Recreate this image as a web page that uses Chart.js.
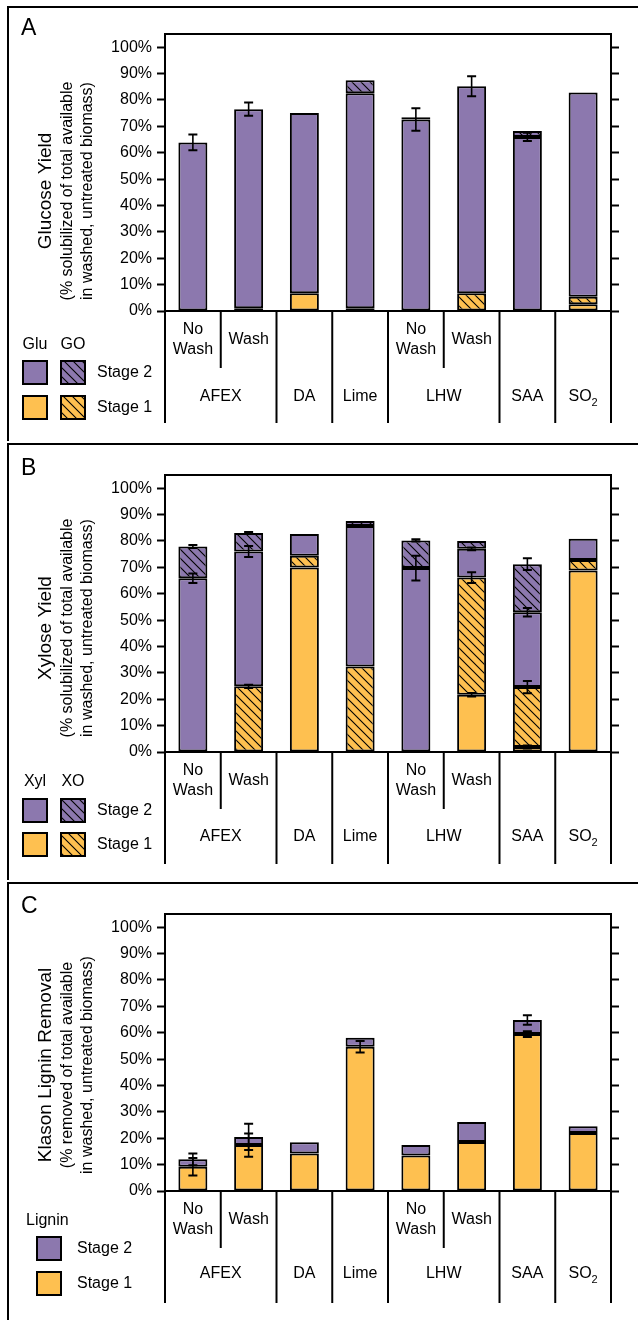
<!DOCTYPE html>
<html>
<head>
<meta charset="utf-8">
<title>Pretreatment yields</title>
<script src="https://cdn.jsdelivr.net/npm/chart.js@4/dist/chart.umd.min.js"></script>
<style>
  body { margin: 0; background: #fff; }
  canvas { position: absolute; left: 0; }
</style>
</head>
<body>
<canvas id="chartA" width="638" height="441" style="top:0"></canvas>
<canvas id="chartB" width="638" height="439" style="top:441px"></canvas>
<canvas id="chartC" width="638" height="440" style="top:880px"></canvas>
<script>
// categories and table labels
const categories = ['AFEX No Wash', 'AFEX Wash', 'DA', 'Lime', 'LHW No Wash', 'LHW Wash', 'SAA', 'SO2'];
const washLabels = [['No', 'Wash'], ['Wash'], [], [], ['No', 'Wash'], ['Wash'], [], []];
const groupLabels = ['AFEX', 'DA', 'Lime', 'LHW', 'SAA', 'SO2'];
const groupSpans = [[0, 1], [2, 2], [3, 3], [4, 5], [6, 6], [7, 7]];
const yTickValues = [0, 10, 20, 30, 40, 50, 60, 70, 80, 90, 100];

// A - glucose (% solubilized)
const glu1 = [0, 0, 6.7, 0, 0, 0, 0, 2.6];
const go1 = [0, 1.0, 0, 1.0, 0, 6.7, 0, 2.8];
const glu2 = [63.9, 75.5, 68.4, 81.5, 72.6, 78.5, 66.0, 77.4];
const go2 = [0, 0, 0, 5.0, 0.8, 0, 2.2, 0];
const glu2Err = [3.0, 2.5, null, null, 4.3, 3.8, 1.6, null];

// B - xylose (% solubilized)
const xyl1 = [0, 0, 69.9, 0, 0, 21.7, 1.9, 68.8];
const xo1 = [0, 24.9, 4.5, 32.4, 0, 44.4, 22.7, 4.0];
const xyl2 = [65.9, 51.1, 8.2, 53.3, 69.7, 10.9, 28.4, 8.0];
const xo2 = [12.0, 7.0, 0, 1.9, 10.5, 3.0, 18.2, 0];
const xyl1Err = [null, null, null, null, null, 0.7, 0.6, null];
const xo1Err = [null, 0.6, null, null, null, 2.0, 2.3, null];
const xyl2Err = [1.8, 2.1, null, null, 4.7, 0.5, 1.6, null];
const xo2Err = [0.6, 0.4, null, null, 0.4, null, 2.2, null];

// C - Klason lignin (% removed)
const lig1 = [9.2, 17.4, 14.2, 54.7, 13.5, 18.6, 59.5, 22.0];
const lig2 = [2.8, 3.1, 4.3, 3.4, 3.9, 7.6, 5.3, 2.5];
const lig1Err = [3.3, 4.4, null, 2.2, null, null, 1.1, null];
const lig2Err = [2.2, 5.0, null, null, null, null, 1.8, null];

const PURPLE = '#8c78ae';
const ORANGE = '#fec050';
const FONT = '"Liberation Sans", Arial, Helvetica, sans-serif';

Chart.defaults.font.family = FONT;
Chart.defaults.color = '#000';

function hatch(color) {
  const s = 9;
  const c = document.createElement('canvas');
  c.width = s; c.height = s;
  const g = c.getContext('2d');
  g.fillStyle = color;
  g.fillRect(0, 0, s, s);
  g.strokeStyle = '#000';
  g.lineWidth = 1.1;
  g.beginPath();
  g.moveTo(-1, -1); g.lineTo(s + 1, s + 1);
  g.moveTo(-1, s - 1); g.lineTo(1, s + 1);
  g.moveTo(s - 1, -1); g.lineTo(s + 1, 1);
  g.stroke();
  return g.createPattern(c, 'repeat');
}
const PURPLE_H = hatch(PURPLE);
const ORANGE_H = hatch(ORANGE);

function nz(arr) { return arr.map(v => (v ? v : null)); }

function bars(label, data, color, errs) {
  return {
    label: label,
    data: nz(data),
    errs: errs,
    backgroundColor: color,
    borderColor: '#000',
    borderWidth: 2,
    borderSkipped: false,
    categoryPercentage: 1,
    barPercentage: 0.52
  };
}

// error bars drawn at the top of each stacked segment
const errorBars = {
  id: 'errorBars',
  afterDatasetsDraw(chart) {
    const ctx = chart.ctx;
    const ys = chart.scales.y, xs = chart.scales.x;
    const sets = chart.data.datasets;
    ctx.save();
    ctx.strokeStyle = '#000';
    sets.forEach((d, i) => {
      if (!d.errs) return;
      d.errs.forEach((e, j) => {
        if (e == null) return;
        let top = 0;
        for (let k = 0; k <= i; k++) top += sets[k].data[j] || 0;
        const x = xs.getPixelForValue(j);
        const y1 = ys.getPixelForValue(top + e);
        const y2 = ys.getPixelForValue(top - e);
        ctx.lineWidth = 1.6;
        ctx.beginPath();
        ctx.moveTo(x, y1); ctx.lineTo(x, y2);
        ctx.stroke();
        ctx.lineWidth = 2;
        ctx.beginPath();
        ctx.moveTo(x - 4.5, y1); ctx.lineTo(x + 4.5, y1);
        ctx.moveTo(x - 4.5, y2); ctx.lineTo(x + 4.5, y2);
        ctx.stroke();
      });
    });
    ctx.restore();
  }
};

function line(ctx, x1, y1, x2, y2) {
  ctx.beginPath();
  ctx.moveTo(x1, y1);
  ctx.lineTo(x2, y2);
  ctx.stroke();
}

function drawLabel(ctx, text, x, y) {
  if (text === 'SO2') {
    ctx.font = '16px ' + FONT;
    const w1 = ctx.measureText('SO').width;
    ctx.font = '11px ' + FONT;
    const w2 = ctx.measureText('2').width;
    const x0 = x - (w1 + w2) / 2;
    ctx.textAlign = 'left';
    ctx.font = '16px ' + FONT;
    ctx.fillText('SO', x0, y);
    ctx.font = '11px ' + FONT;
    ctx.fillText('2', x0 + w1, y + 6);
    ctx.textAlign = 'center';
    ctx.font = '16px ' + FONT;
  } else {
    ctx.fillText(text, x, y);
  }
}

function panelDecor(p) {
  return {
    id: 'panelDecor',
    afterDraw(chart) {
      const ctx = chart.ctx, area = chart.chartArea, xs = chart.scales.x;
      const w = xs.getPixelForValue(1) - xs.getPixelForValue(0);
      const base = area.bottom;
      ctx.save();
      ctx.strokeStyle = '#000';
      ctx.fillStyle = '#000';
      ctx.lineWidth = 2;

      // panel frame
      ctx.beginPath();
      ctx.moveTo(8, chart.height);
      ctx.lineTo(8, p.frameTop);
      ctx.lineTo(chart.width, p.frameTop);
      ctx.stroke();

      // top of plot box
      line(ctx, area.left - 1, area.top, area.right + 1, area.top);

      // category table lines
      [0, 2, 3, 4, 6, 7, 8].forEach(k => {
        const x = area.left + k * w;
        line(ctx, x, base, x, base + 112);
      });
      [1, 5].forEach(k => {
        const x = area.left + k * w;
        line(ctx, x, base, x, base + 57);
      });

      // table text
      ctx.font = '16px ' + FONT;
      ctx.textAlign = 'center';
      ctx.textBaseline = 'middle';
      washLabels.forEach((lbl, i) => {
        const x = xs.getPixelForValue(i);
        if (lbl.length === 2) {
          ctx.fillText(lbl[0], x, base + 19);
          ctx.fillText(lbl[1], x, base + 39);
        } else if (lbl.length === 1) {
          ctx.fillText(lbl[0], x, base + 29);
        }
      });
      groupLabels.forEach((g, i) => {
        const s = groupSpans[i];
        const x = (xs.getPixelForValue(s[0]) + xs.getPixelForValue(s[1])) / 2;
        drawLabel(ctx, g, x, base + p.groupDy);
      });

      // legend
      const L = p.legend;
      L.heads.forEach((h, i) => {
        const x = L.cols[i];
        if (L.headLeft) {
          ctx.textAlign = 'left';
          ctx.fillText(h, L.headLeft, L.headY);
        } else {
          ctx.textAlign = 'center';
          ctx.fillText(h, x + 12, L.headY);
        }
      });
      L.rows.forEach((row, r) => {
        const y = L.rowY[r];
        row.fills.forEach((f, c) => {
          const x = L.cols[c];
          ctx.fillStyle = f;
          ctx.fillRect(x, y, 24, 23);
          ctx.strokeRect(x, y, 24, 23);
        });
        ctx.fillStyle = '#000';
        ctx.textAlign = 'left';
        ctx.fillText(row.text, L.textX, y + 12);
      });

      // axis titles
      ctx.save();
      ctx.translate(0, p.titleY);
      ctx.rotate(-Math.PI / 2);
      ctx.textAlign = 'center';
      ctx.font = '19px ' + FONT;
      ctx.fillText(p.titles[0], 0, 46);
      ctx.font = '16px ' + FONT;
      ctx.fillText(p.titles[1], 0, 67.5);
      ctx.fillText(p.titles[2], 0, 88);
      ctx.restore();

      // panel letter
      ctx.font = '23px ' + FONT;
      ctx.textAlign = 'left';
      ctx.textBaseline = 'alphabetic';
      ctx.fillText(p.letter, 21, p.letterY);
      ctx.restore();
    }
  };
}

function makePanel(id, datasets, p) {
  const canvas = document.getElementById(id);
  const H = canvas.height;
  const tickGrid = {
    drawOnChartArea: false,
    drawTicks: true,
    tickLength: 8,
    tickWidth: 2,
    tickColor: '#000'
  };
  const keepTicks = ax => { ax.ticks = yTickValues.map(v => ({ value: v })); };
  return new Chart(canvas, {
    type: 'bar',
    data: { labels: categories, datasets: datasets },
    options: {
      responsive: false,
      animation: false,
      layout: { padding: { top: 34, left: 0, right: 0, bottom: 0 } },
      plugins: { legend: { display: false }, tooltip: { enabled: false } },
      scales: {
        x: {
          stacked: true,
          grid: { display: false },
          ticks: { display: false },
          border: { display: true, color: '#000', width: 2 },
          afterFit: ax => { ax.height = H - 311; }
        },
        y: {
          stacked: true,
          position: 'left',
          min: 0,
          max: 105,
          afterBuildTicks: keepTicks,
          ticks: { callback: v => v + '%', font: { size: 16 }, padding: 5, color: '#000' },
          grid: tickGrid,
          border: { display: true, color: '#000', width: 2 },
          afterFit: ax => { ax.width = 165; }
        },
        y2: {
          type: 'linear',
          position: 'right',
          min: 0,
          max: 105,
          afterBuildTicks: keepTicks,
          ticks: { display: false },
          grid: tickGrid,
          border: { display: true, color: '#000', width: 2 },
          afterFit: ax => { ax.width = 27; }
        }
      }
    },
    plugins: [errorBars, panelDecor(p)]
  });
}

makePanel('chartA', [
  bars('Glu Stage 1', glu1, ORANGE),
  bars('GO Stage 1', go1, ORANGE_H),
  bars('Glu Stage 2', glu2, PURPLE, glu2Err),
  bars('GO Stage 2', go2, PURPLE_H)
], {
  letter: 'A', letterY: 35, frameTop: 7, groupDy: 86, titleY: 191,
  titles: ['Glucose Yield', '(% solubilized of total available', 'in washed, untreated biomass)'],
  legend: {
    heads: ['Glu', 'GO'], headY: 345, cols: [23, 61], textX: 97, rowY: [361, 396],
    rows: [{ text: 'Stage 2', fills: [PURPLE, PURPLE_H] }, { text: 'Stage 1', fills: [ORANGE, ORANGE_H] }]
  }
});

makePanel('chartB', [
  bars('Xyl Stage 1', xyl1, ORANGE, xyl1Err),
  bars('XO Stage 1', xo1, ORANGE_H, xo1Err),
  bars('Xyl Stage 2', xyl2, PURPLE, xyl2Err),
  bars('XO Stage 2', xo2, PURPLE_H, xo2Err)
], {
  letter: 'B', letterY: 34, frameTop: 3, groupDy: 85, titleY: 187,
  titles: ['Xylose Yield', '(% solubilized of total available', 'in washed, untreated biomass)'],
  legend: {
    heads: ['Xyl', 'XO'], headY: 341, cols: [23, 61], textX: 97, rowY: [358, 392],
    rows: [{ text: 'Stage 2', fills: [PURPLE, PURPLE_H] }, { text: 'Stage 1', fills: [ORANGE, ORANGE_H] }]
  }
});

makePanel('chartC', [
  bars('Lignin Stage 1', lig1, ORANGE, lig1Err),
  bars('Lignin Stage 2', lig2, PURPLE, lig2Err)
], {
  letter: 'C', letterY: 33, frameTop: 3, groupDy: 83, titleY: 185,
  titles: ['Klason Lignin Removal', '(% removed of total available', 'in washed, untreated biomass)'],
  legend: {
    heads: ['Lignin'], headLeft: 26, headY: 341, cols: [37], textX: 77, rowY: [357, 392],
    rows: [{ text: 'Stage 2', fills: [PURPLE] }, { text: 'Stage 1', fills: [ORANGE] }]
  }
});
</script>
</body>
</html>
